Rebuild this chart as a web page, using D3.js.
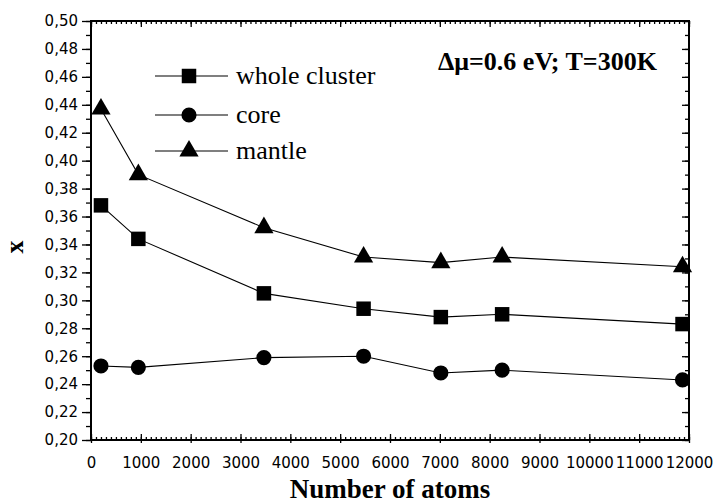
<!DOCTYPE html>
<html>
<head>
<meta charset="utf-8">
<script src="https://cdnjs.cloudflare.com/ajax/libs/d3/7.8.5/d3.min.js"></script>
<style>
  body { margin: 0; background: #fff; }
  svg { display: block; }
  .tick text { font-family: "DejaVu Sans", sans-serif; font-size: 15px; fill: #000; }
</style>
</head>
<body>
<div id="chart"></div>
<script>
// data
var atoms = [200, 950, 3470, 5470, 7020, 8250, 11870];
var wholeCluster = [0.368, 0.344, 0.305, 0.294, 0.288, 0.290, 0.283];
var core = [0.253, 0.252, 0.259, 0.260, 0.248, 0.250, 0.243];
var mantle = [0.437, 0.390, 0.352, 0.331, 0.327, 0.331, 0.324];
var seriesNames = ['whole cluster', 'core', 'mantle'];
var xTicks = [0, 1000, 2000, 3000, 4000, 5000, 6000, 7000, 8000, 9000, 10000, 11000, 12000];
var yTicks = [0.20, 0.22, 0.24, 0.26, 0.28, 0.30, 0.32, 0.34, 0.36, 0.38, 0.40, 0.42, 0.44, 0.46, 0.48, 0.50];

var margin = {top: 21, right: 25, bottom: 63, left: 91};
var width = 714 - margin.left - margin.right;
var height = 503 - margin.top - margin.bottom;

var svg = d3.select('#chart').append('svg')
  .attr('width', 714)
  .attr('height', 503);

var g = svg.append('g')
  .attr('transform', 'translate(' + margin.left + ',' + margin.top + ')');

var x = d3.scaleLinear().domain([0, 12000]).range([0, width]);
var y = d3.scaleLinear().domain([0.20, 0.50]).range([height, 0]);

var fmt = function(d) { return d3.format('.2f')(d).replace('.', ','); };

var xMinor = d3.range(0, 12001, 100);
var yMinor = d3.range(0, 31).map(function(i) { return 0.20 + i * 0.01; });

// left axis (outward ticks)
g.append('g').call(d3.axisLeft(y).tickValues(yMinor).tickSize(5).tickFormat(''));
g.append('g').call(d3.axisLeft(y).tickValues(yTicks).tickSize(9).tickPadding(4).tickFormat(fmt));
// right axis (inward)
g.append('g').attr('transform', 'translate(' + width + ',0)')
  .call(d3.axisRight(y).tickValues(yMinor).tickSize(-4).tickFormat(''));
g.append('g').attr('transform', 'translate(' + width + ',0)')
  .call(d3.axisRight(y).tickValues(yTicks).tickSize(-7).tickFormat(''));
// bottom axis (minor inward, major crossing)
g.append('g').attr('transform', 'translate(0,' + height + ')')
  .call(d3.axisBottom(x).tickValues(xMinor).tickSize(-3).tickFormat(''));
var bottom = g.append('g').attr('transform', 'translate(0,' + height + ')')
  .call(d3.axisBottom(x).tickValues(xTicks).tickSize(3).tickPadding(14).tickFormat(d3.format('d')));
bottom.selectAll('.tick line').attr('y1', -6);
// top axis (inward)
g.append('g')
  .call(d3.axisTop(x).tickValues(xMinor).tickSize(-3).tickFormat(''));
g.append('g')
  .call(d3.axisTop(x).tickValues(xTicks).tickSize(-6).tickFormat(''));

g.selectAll('.domain').remove();
g.selectAll('.tick line').attr('stroke', '#000').attr('stroke-width', 1.3);

g.append('rect')
  .attr('width', width)
  .attr('height', height)
  .attr('fill', 'none')
  .attr('stroke', '#000')
  .attr('stroke-width', 2);

// series
var allSeries = [
  {name: seriesNames[0], values: wholeCluster, symbol: d3.symbolSquare, size: 210},
  {name: seriesNames[1], values: core, symbol: d3.symbolCircle, size: 180},
  {name: seriesNames[2], values: mantle, symbol: d3.symbolTriangle, size: 160}
];

var line = d3.line()
  .x(function(d) { return x(d[0]); })
  .y(function(d) { return y(d[1]); });

allSeries.forEach(function(s) {
  var pts = atoms.map(function(a, i) { return [a, s.values[i]]; });
  g.append('path')
    .datum(pts)
    .attr('d', line)
    .attr('fill', 'none')
    .attr('stroke', '#000')
    .attr('stroke-width', 1.1);
  g.selectAll(null)
    .data(pts)
    .enter().append('path')
    .attr('transform', function(d) { return 'translate(' + x(d[0]) + ',' + y(d[1]) + ')'; })
    .attr('d', d3.symbol().type(s.symbol).size(s.size))
    .attr('fill', '#000');
});

// legend
var legend = svg.append('g');
var legendY = [76, 115, 151];
allSeries.forEach(function(s, i) {
  var row = legend.append('g').attr('transform', 'translate(0,' + legendY[i] + ')');
  row.append('line')
    .attr('x1', 155).attr('x2', 228)
    .attr('stroke', '#000').attr('stroke-width', 1.1);
  row.append('path')
    .attr('transform', 'translate(189,0)')
    .attr('d', d3.symbol().type(s.symbol).size(s.size))
    .attr('fill', '#000');
  row.append('text')
    .attr('x', 236)
    .attr('y', 8)
    .style('font-family', '"Liberation Serif", "Times New Roman", serif')
    .style('font-size', '26px')
    .text(s.name);
});

// annotation
svg.append('text')
  .attr('x', 438)
  .attr('y', 70)
  .style('font-family', '"Liberation Serif", "Times New Roman", serif')
  .style('font-size', '26px')
  .style('font-weight', 'bold')
  .text('\u0394\u03bc=0.6 eV; T=300K');

// axis titles
svg.append('text')
  .attr('x', margin.left + width / 2)
  .attr('y', 498)
  .attr('text-anchor', 'middle')
  .style('font-family', '"Liberation Serif", "Times New Roman", serif')
  .style('font-size', '27px')
  .style('font-weight', 'bold')
  .text('Number of atoms');

svg.append('text')
  .attr('transform', 'translate(23,247) rotate(-90)')
  .attr('text-anchor', 'middle')
  .style('font-family', '"Liberation Serif", "Times New Roman", serif')
  .style('font-size', '26px')
  .style('font-weight', 'bold')
  .text('x');
</script>
</body>
</html>
